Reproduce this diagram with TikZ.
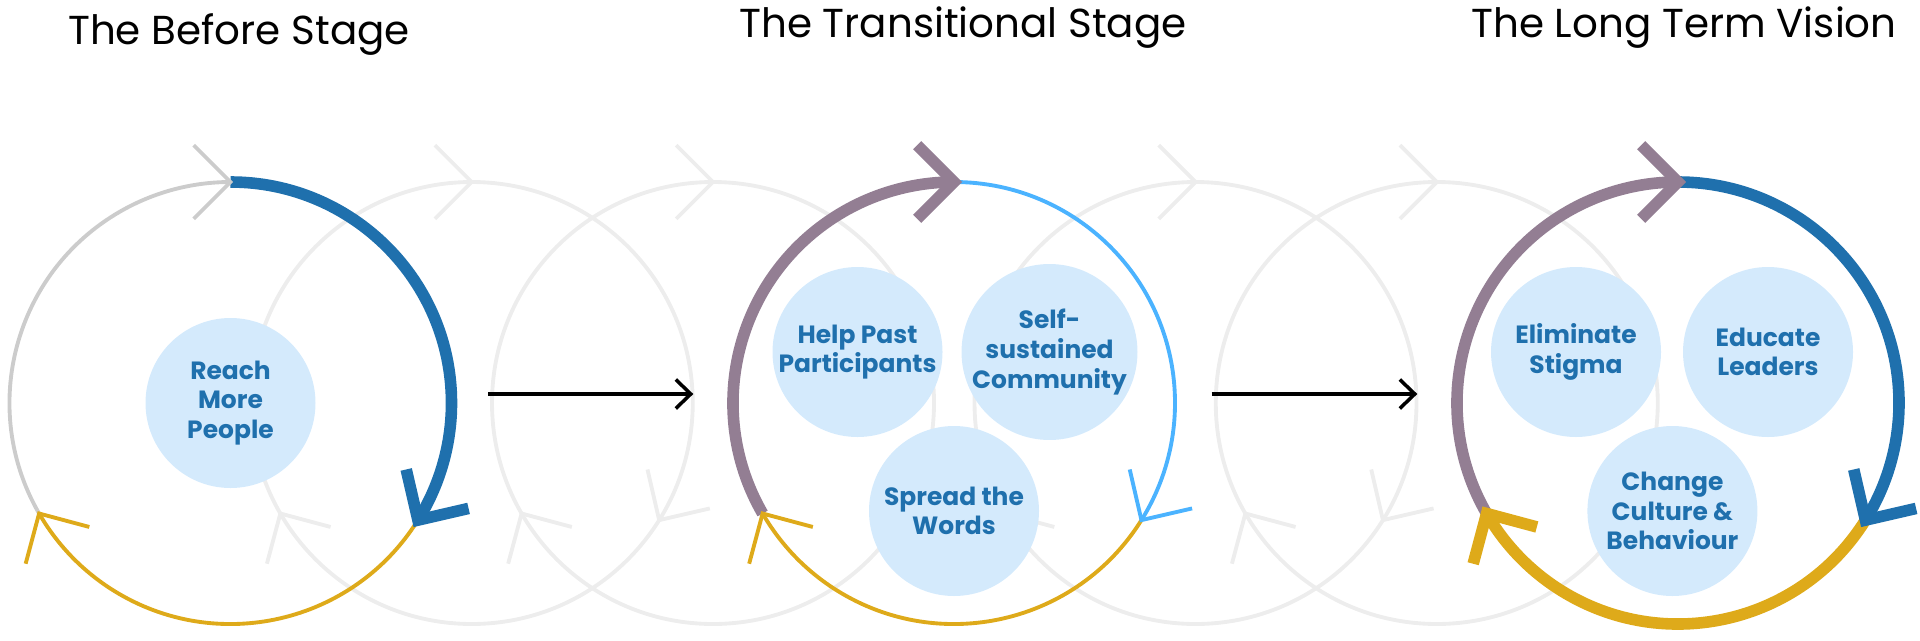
\documentclass[tikz,border=0pt]{standalone}
\usepackage{fontspec}
\setmainfont{Poppins}
\usepackage{xcolor}
\usepackage{tikz}
\usetikzlibrary{calc,arrows.meta,positioning}
\definecolor{mainc}{HTML}{1F70AD}
\definecolor{skyc}{HTML}{4BB3FF}
\definecolor{goldc}{HTML}{DEAA1A}
\definecolor{mauvec}{HTML}{937E93}
\definecolor{greyc}{HTML}{CCCCCC}
\definecolor{ghostc}{HTML}{EDEDED}
\definecolor{softbg}{HTML}{D4EAFC}
\tikzset{
  lite/.style={line width=1.1pt},
  fat/.style={line width=3.3pt},
  ar/.style={-{Straight Barb[length=1.5mm,width=2.9mm]},line width=1pt,black,shorten <=0.36cm,shorten >=0.39cm},
  ring/.style={circle,minimum size=4.42cm,inner sep=0pt},
  bub/.style={circle,fill=softbg,minimum size=1.7cm,inner sep=0pt,align=center,text=mainc,font=\bfseries\fontsize{7.1}{8.4}\selectfont},
  ttl/.style={anchor=base,font=\fontsize{11.5}{14}\selectfont}
}
\newcommand{\ringarc}[4]{\draw[#4] ($(#1)+(#2:2.21)$) arc[start angle=#2,end angle=#3,radius=2.21];}
\newcommand{\ringtip}[3]{\draw[#3] ($(#1)+(#2:2.21)+(#2+45:0.52)$) -- ($(#1)+(#2:2.21)$) -- ($(#1)+(#2:2.21)+(#2+135:0.52)$);}

\begin{document}
\begin{tikzpicture}
\useasboundingbox (0,0) rectangle (19.2,6.4);
\foreach \i in {1,2,4,5}{
  \coordinate (g\i) at (2.305+2.4125*\i,2.37);
  \draw[ghostc,lite] (g\i) circle (2.21);
  \foreach \a in {90,-32,210}{\ringtip{g\i}{\a}{ghostc,lite}}
}
\node[ring] (c1) at (2.305,2.37) {};
\node[ring] (c2) at (9.54,2.37) {};
\node[ring] (c3) at (16.78,2.37) {};

\ringarc{c1}{210}{90}{greyc,lite}
\ringarc{c1}{90}{-32}{mainc,fat}
\ringarc{c1}{-32}{-150}{goldc,lite}
\ringtip{c1}{90}{greyc,lite}
\ringtip{c1}{-32}{mainc,fat}
\ringtip{c1}{210}{goldc,lite}

\ringarc{c2}{210}{90}{mauvec,fat}
\ringarc{c2}{90}{-32}{skyc,lite}
\ringarc{c2}{-32}{-150}{goldc,lite}
\ringtip{c2}{90}{mauvec,fat}
\ringtip{c2}{-32}{skyc,lite}
\ringtip{c2}{210}{goldc,lite}

\ringarc{c3}{210}{90}{mauvec,fat}
\ringarc{c3}{90}{-32}{mainc,fat}
\ringarc{c3}{-32}{-150}{goldc,fat}
\ringtip{c3}{90}{mauvec,fat}
\ringtip{c3}{-32}{mainc,fat}
\ringtip{c3}{210}{goldc,fat}

\node[bub] (reach) at (c1) {Reach\\More\\People};
\node[bub] (help) at ($(c2)+(-0.965,0.51)$) {Help Past\\Participants};
\node[bub] (self) at ($(c2)+(0.955,0.51)$) {Self-\\sustained\\Community};
\node[bub] (spread) at ($(c2)+(0,-1.08)$) {Spread the\\Words};
\node[bub] (stigma) at ($(c3)+(-1.02,0.51)$) {Eliminate\\Stigma};
\node[bub] (leaders) at ($(c3)+(0.90,0.51)$) {Educate\\Leaders};
\node[bub] (culture) at ($(c3)+(-0.056,-1.08)$) {Change\\Culture \&\\Behaviour};

\draw[ar] ([yshift=0.09cm]c1.east) -- ([yshift=0.09cm]c2.west);
\draw[ar] ([yshift=0.09cm]c2.east) -- ([yshift=0.09cm]c3.west);

\node[ttl] (before) at (2.39,5.96) {The Before Stage};
\node[ttl] (trans) at (9.63,6.025) {The Transitional Stage};
\node[ttl] (vision) at (16.84,6.03) {The Long Term Vision};
\end{tikzpicture}
\end{document}
